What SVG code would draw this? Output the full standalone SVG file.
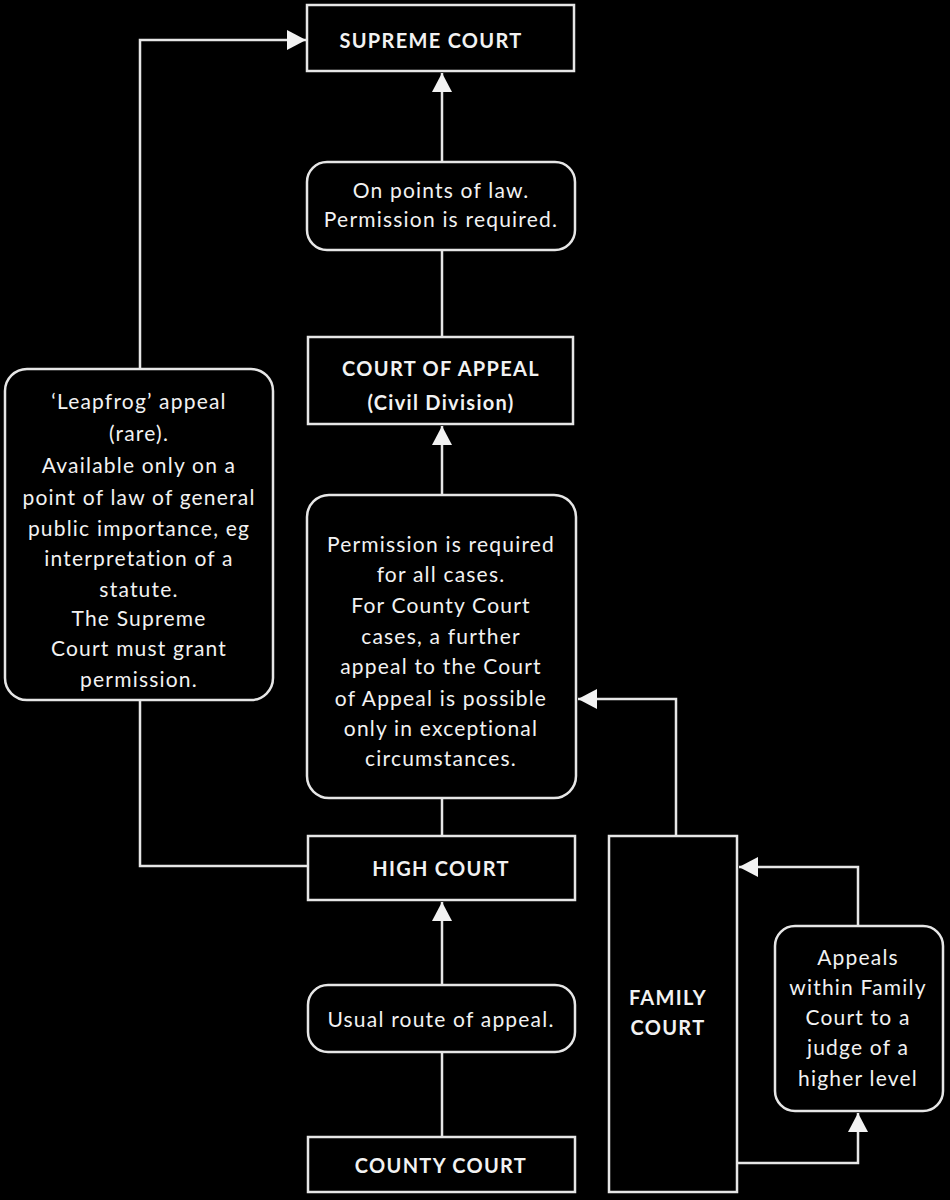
<svg xmlns="http://www.w3.org/2000/svg" width="950" height="1200" viewBox="0 0 950 1200">
<defs>
<style>
.box{fill:#000;stroke:#e6e6e6;stroke-width:2.5}
.ln{fill:none;stroke:#e6e6e6;stroke-width:2.5}
.t{font-family:Lato,"Open Sans","Liberation Sans",sans-serif;font-size:21px;letter-spacing:1.2px;fill:#f2f2f2;text-anchor:middle;dominant-baseline:central}
.b{font-weight:bold;font-size:20px;letter-spacing:1.3px}
</style>
<marker id="ah" markerUnits="userSpaceOnUse" markerWidth="20" markerHeight="20" viewBox="0 0 20 20" refX="19" refY="10" orient="auto">
<path d="M0,0 L19,10 L0,20 Z" fill="#f2f2f2"/>
</marker>
</defs>
<rect width="950" height="1200" fill="#000"/>
<g id="connectors">
<path class="ln" d="M442,162 V73" marker-end="url(#ah)"/>
<path class="ln" d="M442,337 V250"/>
<path class="ln" d="M442,495 V426" marker-end="url(#ah)"/>
<path class="ln" d="M442,836 V798"/>
<path class="ln" d="M442,985 V902" marker-end="url(#ah)"/>
<path class="ln" d="M442,1137 V1052"/>
<path class="ln" d="M140,369 V40 H306" marker-end="url(#ah)"/>
<path class="ln" d="M140,700 V866 H308"/>
<path class="ln" d="M676,836 V699 H578" marker-end="url(#ah)"/>
<path class="ln" d="M858,926 V867 H739" marker-end="url(#ah)"/>
<path class="ln" d="M737,1163 H858 V1113" marker-end="url(#ah)"/>
</g>
<g id="supreme-court">
<rect class="box" x="307" y="5" width="267" height="66"/>
<text class="t b" x="431" y="40">SUPREME COURT</text>
</g>
<g id="points-of-law">
<rect class="box" x="307" y="162" width="268" height="88" rx="20"/>
<text class="t" x="441" y="189">On points of law.</text>
<text class="t" x="441" y="218">Permission is required.</text>
</g>
<g id="court-of-appeal">
<rect class="box" x="308" y="337" width="265" height="87"/>
<text class="t b" x="441" y="368">COURT OF APPEAL</text>
<text class="t b" x="441" y="402">(Civil Division)</text>
</g>
<g id="permission">
<rect class="box" x="307" y="495" width="269" height="303" rx="22"/>
<text class="t" x="441" y="543">Permission is required</text>
<text class="t" x="441" y="573">for all cases.</text>
<text class="t" x="441" y="604">For County Court</text>
<text class="t" x="441" y="635">cases, a further</text>
<text class="t" x="441" y="665">appeal to the Court</text>
<text class="t" x="441" y="697">of Appeal is possible</text>
<text class="t" x="441" y="727">only in exceptional</text>
<text class="t" x="441" y="757">circumstances.</text>
</g>
<g id="leapfrog">
<rect class="box" x="5" y="369" width="268" height="331" rx="22"/>
<text class="t" x="139" y="400">‘Leapfrog’ appeal</text>
<text class="t" x="139" y="432">(rare).</text>
<text class="t" x="139" y="464">Available only on a</text>
<text class="t" x="139" y="496">point of law of general</text>
<text class="t" x="139" y="527">public importance, eg</text>
<text class="t" x="139" y="557">interpretation of a</text>
<text class="t" x="139" y="588">statute.</text>
<text class="t" x="139" y="617">The Supreme</text>
<text class="t" x="139" y="647">Court must grant</text>
<text class="t" x="139" y="678">permission.</text>
</g>
<g id="high-court">
<rect class="box" x="308" y="836" width="267" height="64"/>
<text class="t b" x="441" y="868">HIGH COURT</text>
</g>
<g id="usual-route">
<rect class="box" x="308" y="985" width="267" height="67" rx="20"/>
<text class="t" x="441" y="1018">Usual route of appeal.</text>
</g>
<g id="county-court">
<rect class="box" x="308" y="1137" width="267" height="55"/>
<text class="t b" x="441" y="1165">COUNTY COURT</text>
</g>
<g id="family-court">
<rect class="box" x="609" y="836" width="128" height="356"/>
<text class="t b" x="668" y="997">FAMILY</text>
<text class="t b" x="668" y="1027">COURT</text>
</g>
<g id="appeals-within">
<rect class="box" x="775" y="926" width="168" height="185" rx="20"/>
<text class="t" x="858" y="956">Appeals</text>
<text class="t" x="858" y="986">within Family</text>
<text class="t" x="858" y="1016">Court to a</text>
<text class="t" x="858" y="1046">judge of a</text>
<text class="t" x="858" y="1077">higher level</text>
</g>
</svg>
